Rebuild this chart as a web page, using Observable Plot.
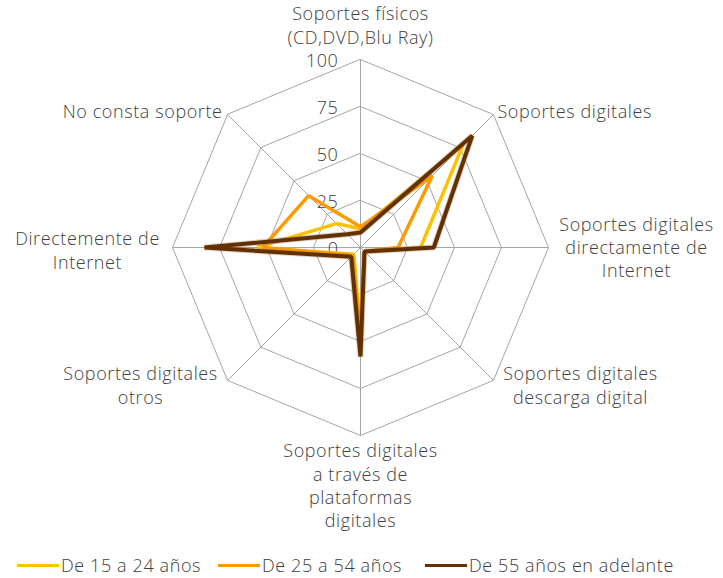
<!DOCTYPE html>
<html>
<head>
<meta charset="utf-8">
<script src="https://cdn.jsdelivr.net/npm/d3@7"></script>
<script src="https://cdn.jsdelivr.net/npm/@observablehq/plot@0.6"></script>
<style>
  html, body { margin: 0; padding: 0; background: #fff; }
  body { width: 723px; height: 578px; overflow: hidden; font-family: "Open Sans", sans-serif; }
  #legend { position: relative; height: 26px; font-size: 18px; letter-spacing: 0.6px; color: #404040; font-weight: 300; }
  .item { position: absolute; top: 0; display: flex; align-items: center; height: 26px; }
  .swatch { width: 42px; height: 3px; margin-right: 2px; }
</style>
</head>
<body>
<div id="chart"></div>
<div id="legend"></div>
<script>
// ---- data ----
const axes = [
  "Soportes físicos\n(CD,DVD,Blu Ray)",
  "Soportes digitales",
  "Soportes digitales\ndirectamente de\nInternet",
  "Soportes digitales\ndescarga digital",
  "Soportes digitales\na través de\nplataformas\ndigitales",
  "Soportes digitales\notros",
  "Directemente de\nInternet",
  "No consta soporte"
];
const seriesNames = ["De 15 a 24 años", "De 25 a 54 años", "De 55 años en adelante"];
const values15_24 = [10, 77, 32, 3, 45, 5, 55, 18];
const values25_54 = [11, 54, 20, 3, 48, 6, 52, 39];
const values55    = [8, 84, 39, 3, 58, 7, 83, 10];
const ticks = [0, 25, 50, 75, 100];
const colors = ["#FFC000", "#FF9900", "#633100"];

// ---- geometry helpers (angles from the axis order) ----
const n = axes.length;
const ang = i => (2 * Math.PI * i) / n;
const px = (i, v) => v * Math.sin(ang(i));
const py = (i, v) => v * Math.cos(ang(i));

const seriesValues = [values15_24, values25_54, values55];
const points = seriesValues.flatMap((vals, s) =>
  vals.map((v, i) => ({ series: seriesNames[s], x: px(i, v), y: py(i, v) }))
);
const rings = ticks.filter(t => t > 0).flatMap(t =>
  axes.map((a, i) => ({ ring: t, x: px(i, t), y: py(i, t) }))
);
const spokes = axes.map((a, i) => ({ x1: 0, y1: 0, x2: px(i, 100), y2: py(i, 100) }));

// layout of axis labels (style only)
const labelStyle = [
  { textAnchor: "middle", lineAnchor: "bottom", dx: 0, dy: -16 },
  { textAnchor: "start", lineAnchor: "middle", dx: 4, dy: -4 },
  { textAnchor: "middle", lineAnchor: "middle", dx: 88, dy: -1 },
  { textAnchor: "middle", lineAnchor: "middle", dx: 87, dy: 4 },
  { textAnchor: "middle", lineAnchor: "top", dx: 0, dy: 5 },
  { textAnchor: "middle", lineAnchor: "middle", dx: -87, dy: 4 },
  { textAnchor: "middle", lineAnchor: "middle", dx: -85, dy: 2 },
  { textAnchor: "end", lineAnchor: "middle", dx: -5, dy: -4 }
];

const W = 723, H = 552, cx = 360, cy = 247, k = 1.88;
const font = "'Open Sans', sans-serif";
const FS = 18;

const marks = [
  Plot.line(rings, { x: "x", y: "y", z: "ring", curve: "linear-closed", stroke: "#a6a6a6", strokeWidth: 1 }),
  Plot.link(spokes, { x1: "x1", y1: "y1", x2: "x2", y2: "y2", stroke: "#a6a6a6", strokeWidth: 1 }),
  Plot.text(ticks, { x: 0, y: d => d, text: d => String(d), textAnchor: "end", dx: -22, dy: 2, fontSize: FS, fill: "#404040", fontWeight: 300 }),
  Plot.line(points.filter(d => d.series === seriesNames[0]), { x: "x", y: "y", curve: "linear-closed", stroke: colors[0], strokeWidth: 3.5, strokeLinejoin: "miter" }),
  Plot.line(points.filter(d => d.series === seriesNames[1]), { x: "x", y: "y", curve: "linear-closed", stroke: colors[1], strokeWidth: 3.5, strokeLinejoin: "miter" }),
  Plot.line(points.filter(d => d.series === seriesNames[2]), { x: "x", y: "y", curve: "linear-closed", stroke: "#a07a52", strokeOpacity: 0.35, strokeWidth: 6, strokeLinejoin: "miter" }),
  Plot.line(points.filter(d => d.series === seriesNames[2]), { x: "x", y: "y", curve: "linear-closed", stroke: colors[2], strokeWidth: 4, strokeLinejoin: "miter" })
];
axes.forEach((a, i) => {
  const s = labelStyle[i];
  marks.push(Plot.text([a], {
    x: px(i, 100) , y: py(i, 100), text: d => d,
    textAnchor: s.textAnchor, lineAnchor: s.lineAnchor, dx: s.dx, dy: s.dy,
    lineHeight: 1.3, fontSize: FS, fill: "#404040", fontWeight: 300
  }));
});

const chart = Plot.plot({
  width: W, height: H,
  margin: 0,
  style: { fontFamily: font, background: "#fff", letterSpacing: "0.6px" },
  x: { domain: [-cx / k, (W - cx) / k], range: [0, W], axis: null },
  y: { domain: [-(H - cy) / k, cy / k], range: [H, 0], axis: null },
  marks
});
document.getElementById("chart").appendChild(chart);

// legend
const legend = document.getElementById("legend");
const lx = [17, 218, 425];
seriesNames.forEach((name, i) => {
  const it = document.createElement("div");
  it.className = "item";
  it.style.left = lx[i] + "px";
  it.innerHTML = `<span class="swatch" style="background:${colors[i]}"></span><span>${name}</span>`;
  legend.appendChild(it);
});
</script>
</body>
</html>
